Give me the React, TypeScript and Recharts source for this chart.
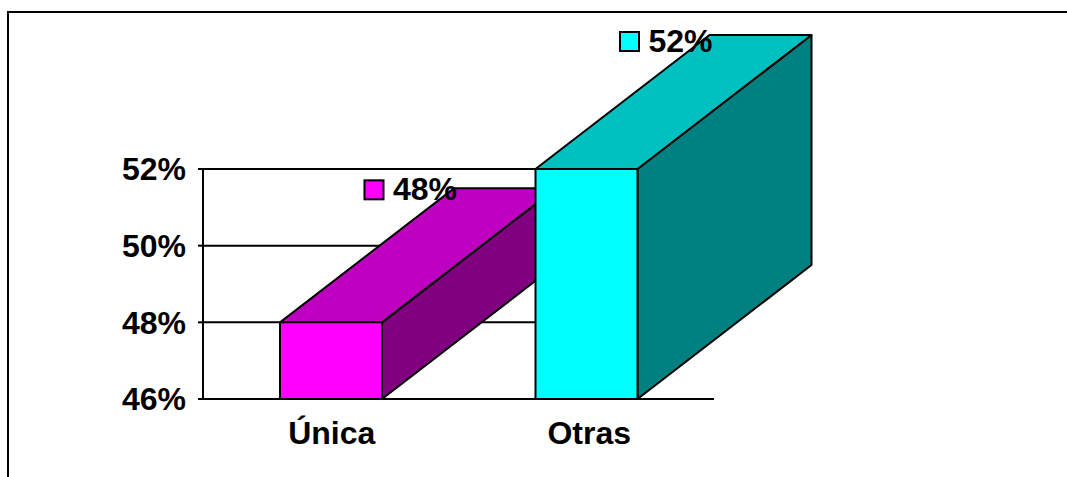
import { BarChart, Bar, XAxis, YAxis, CartesianGrid, LabelList } from 'recharts';

const categories = ['Única', 'Otras'];
const values = [48, 52];
const yTicks = [46, 48, 50, 52];
const frontColors = ['#ff00ff', '#00ffff'];
const topColors = ['#c000c0', '#00c0c0'];
const sideColors = ['#800080', '#008080'];

const data = categories.map((name, i) => ({ name, value: values[i] }));

const DEPTH_X = 174;
const DEPTH_Y = 134;
const LINE = 2;
const font = '"Liberation Sans", Arial, sans-serif';

// bar with fake 3d faces, excel style
function Box3D(props: any) {
  const { x, y, width, height, index } = props;
  const edge = { stroke: '#000', strokeWidth: LINE, strokeLinejoin: 'round' as const };
  const r = x + width;
  const b = y + height;
  return (
    <g>
      <polygon
        points={`${r},${y} ${r + DEPTH_X},${y - DEPTH_Y} ${r + DEPTH_X},${b - DEPTH_Y} ${r},${b}`}
        fill={sideColors[index]}
        {...edge}
      />
      <polygon
        points={`${x},${y} ${x + DEPTH_X},${y - DEPTH_Y} ${r + DEPTH_X},${y - DEPTH_Y} ${r},${y}`}
        fill={topColors[index]}
        {...edge}
      />
      <rect x={x} y={y} width={width} height={height} fill={frontColors[index]} {...edge} />
    </g>
  );
}

// value label with the little legend key in front of it
function KeyLabel(props: any) {
  const { x, y, value, index } = props;
  const up = index === 0 ? 132 : 127;
  return (
    <g>
      <rect x={x + 84.5} y={y - up - 10} width={19} height={19} fill={frontColors[index]} stroke="#000" strokeWidth={LINE} />
      <text x={x + 113} y={y - up + 10} fontFamily={font} fontWeight="bold" fontSize={32} fill="#000">
        {value}%
      </text>
    </g>
  );
}

function CategoryTick(props: any) {
  const { x, y, payload, index } = props;
  return (
    <text x={x + (index === 0 ? 1 : 3)} y={y + 37} textAnchor="middle" fontFamily={font} fontWeight="bold" fontSize={32} fill="#000">
      {payload.value}
    </text>
  );
}

export default function App() {
  return (
    <div style={{ position: 'absolute', left: 0, top: 0, width: 1067, height: 477, overflow: 'hidden', background: '#fff' }}>
      <div style={{ position: 'absolute', left: 7, top: 11, width: 1080, height: 480, borderLeft: '2px solid #000', borderTop: '2px solid #000' }} />
      <BarChart
        width={1067}
        height={477}
        data={data}
        barSize={102}
        margin={{ top: 169, right: 353, bottom: 0, left: 0 }}
        style={{ position: 'absolute', left: 0, top: 0 }}
      >
        <CartesianGrid vertical={false} stroke="#000" strokeWidth={LINE} />
        <XAxis
          dataKey="name"
          height={78}
          tickLine={false}
          axisLine={{ stroke: '#000', strokeWidth: LINE }}
          tick={CategoryTick}
        />
        <YAxis
          width={203}
          domain={[46, 52]}
          ticks={yTicks}
          tickFormatter={(v: number) => `${v}%`}
          tickSize={5}
          tickMargin={12}
          axisLine={{ stroke: '#000', strokeWidth: LINE }}
          tickLine={{ stroke: '#000', strokeWidth: LINE }}
          tick={{ fontFamily: font, fontWeight: 'bold', fontSize: 32, fill: '#000' }}
        />
        <Bar dataKey="value" shape={Box3D} isAnimationActive={false}>
          <LabelList dataKey="value" content={KeyLabel} />
        </Bar>
      </BarChart>
    </div>
  );
}
